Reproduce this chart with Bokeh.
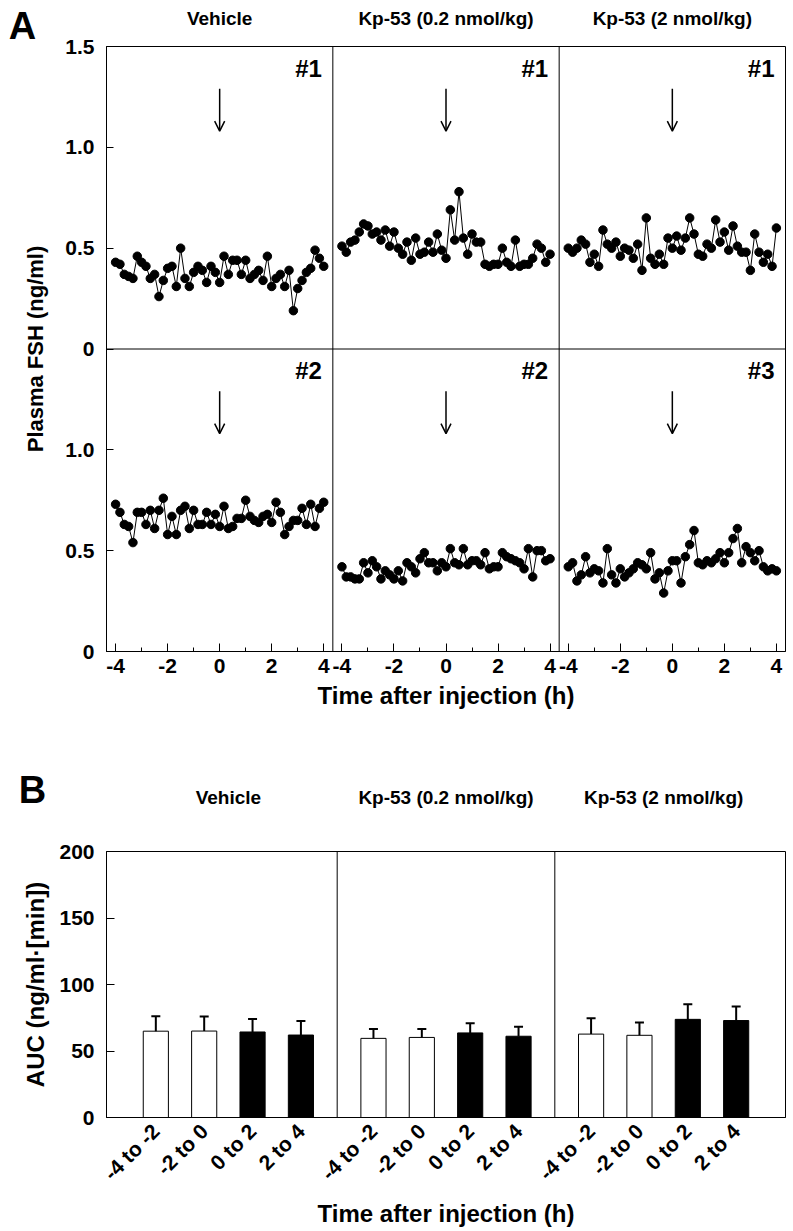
import math
from bokeh.plotting import figure
from bokeh.models import (ColumnDataSource, Range1d, FixedTicker, Span, LabelSet, LinearAxis,
                          Arrow, OpenHead, Whisker, TeeHead, FactorRange)
from bokeh.core.properties import value
from bokeh.layouts import column, row
from bokeh.embed import file_html
from bokeh.resources import INLINE

FONT = "Liberation Sans"

# ---------------- data: panel A (plasma FSH, ng/ml, 10-min sampling) ----------------
times_h = [round(-4 + i / 6, 4) for i in range(49)]

vehicle_1 = [0.43, 0.42, 0.37, 0.36, 0.35, 0.46, 0.43, 0.41, 0.35, 0.37, 0.26, 0.34, 0.40, 0.41, 0.31, 0.50,
             0.35, 0.31, 0.38, 0.41, 0.39, 0.33, 0.41, 0.38, 0.33, 0.46, 0.37, 0.44, 0.44, 0.37, 0.44, 0.35,
             0.37, 0.39, 0.34, 0.46, 0.31, 0.35, 0.37, 0.31, 0.39, 0.19, 0.30, 0.34, 0.38, 0.40, 0.49, 0.45, 0.41]
kp02_1 = [0.51, 0.48, 0.53, 0.54, 0.58, 0.62, 0.61, 0.57, 0.58, 0.54, 0.59, 0.51, 0.58, 0.50, 0.47, 0.53,
          0.44, 0.55, 0.47, 0.48, 0.53, 0.48, 0.57, 0.49, 0.45, 0.69, 0.54, 0.78, 0.55, 0.47, 0.57, 0.53,
          0.53, 0.42, 0.41, 0.42, 0.42, 0.50, 0.43, 0.41, 0.54, 0.41, 0.42, 0.42, 0.45, 0.52, 0.50, 0.43, 0.47]
kp2_1 = [0.50, 0.48, 0.50, 0.54, 0.52, 0.43, 0.47, 0.41, 0.59, 0.52, 0.50, 0.53, 0.46, 0.50, 0.49, 0.45,
         0.52, 0.39, 0.65, 0.45, 0.42, 0.47, 0.42, 0.55, 0.50, 0.56, 0.49, 0.55, 0.65, 0.57, 0.47, 0.46,
         0.52, 0.50, 0.64, 0.53, 0.58, 0.49, 0.61, 0.51, 0.48, 0.48, 0.39, 0.57, 0.48, 0.43, 0.47, 0.41, 0.60]
vehicle_2 = [0.73, 0.69, 0.63, 0.62, 0.54, 0.69, 0.69, 0.63, 0.70, 0.61, 0.70, 0.76, 0.58, 0.67, 0.58, 0.70,
             0.72, 0.61, 0.70, 0.63, 0.63, 0.69, 0.63, 0.68, 0.62, 0.72, 0.61, 0.62, 0.66, 0.66, 0.75, 0.67,
             0.65, 0.64, 0.67, 0.68, 0.64, 0.74, 0.69, 0.58, 0.62, 0.65, 0.65, 0.71, 0.63, 0.73, 0.62, 0.71, 0.74]
kp02_2 = [0.42, 0.37, 0.37, 0.36, 0.36, 0.44, 0.39, 0.45, 0.42, 0.36, 0.40, 0.38, 0.36, 0.40, 0.35, 0.44,
          0.42, 0.39, 0.46, 0.49, 0.44, 0.44, 0.40, 0.44, 0.42, 0.51, 0.44, 0.43, 0.51, 0.43, 0.45, 0.45,
          0.43, 0.49, 0.41, 0.42, 0.42, 0.49, 0.47, 0.46, 0.45, 0.44, 0.41, 0.51, 0.37, 0.50, 0.50, 0.45, 0.46]
kp2_3 = [0.42, 0.44, 0.35, 0.38, 0.47, 0.39, 0.41, 0.40, 0.34, 0.51, 0.38, 0.34, 0.41, 0.37, 0.39, 0.41,
         0.44, 0.43, 0.41, 0.49, 0.36, 0.39, 0.29, 0.40, 0.45, 0.45, 0.34, 0.47, 0.53, 0.60, 0.44, 0.43,
         0.45, 0.44, 0.46, 0.49, 0.44, 0.49, 0.56, 0.61, 0.44, 0.52, 0.49, 0.45, 0.50, 0.42, 0.40, 0.41, 0.40]

treatments = ["Vehicle", "Kp-53 (0.2 nmol/kg)", "Kp-53 (2 nmol/kg)"]
top_row_ids = ["#1", "#1", "#1"]
bottom_row_ids = ["#2", "#2", "#3"]
injection_time = 0
x_major = [-4, -2, 0, 2, 4]
x_minor = [-3, -1, 1, 3]
y_ticks = [0, 0.5, 1.0, 1.5]
y_tick_labels = ["0", "0.5", "1.0", "1.5"]

# ---------------- data: panel B (AUC, ng/ml.[min]) ----------------
periods = ["-4 to -2", "-2 to 0", "0 to 2", "2 to 4"]
post_injection = [False, False, True, True]
auc_vehicle = [64.9, 65.0, 64.3, 62.0]
auc_kp02 = [59.5, 60.2, 63.6, 61.1]
auc_kp2 = [62.7, 61.8, 73.8, 72.9]
sem_vehicle = [11.3, 11.0, 9.7, 10.6]
sem_kp02 = [7.0, 6.3, 7.2, 7.2]
sem_kp2 = [12.0, 9.7, 11.3, 10.6]
auc_ticks = [0, 50, 100, 150, 200]

# ---------------- layout constants (pixels) ----------------
STRIP_W = 50            # strip left of each panel: panel letter + y-axis title
LEFT, RIGHT, FRAME_W = 56, 2, 679
TOP_A, FRAME_A, BOTTOM_A = 46, 605, 76
TOP_B, FRAME_B, BOTTOM_B = 124, 266, 110

TICK_FS = "21px"
TITLE_FS = "19px"
LETTER_FS = "38px"
BOLD = "bold"


def style_axis(ax, label_size):
    ax.major_label_text_font = FONT
    ax.major_label_text_font_style = BOLD
    ax.major_label_text_font_size = TICK_FS
    ax.major_label_text_color = "black"
    ax.axis_label_text_font = FONT
    ax.axis_label_text_font_style = BOLD
    ax.axis_label_text_font_size = label_size
    ax.axis_label_text_color = "black"
    ax.axis_line_color = "black"
    ax.major_tick_line_color = "black"
    ax.minor_tick_line_color = "black"
    ax.major_tick_out = 0
    ax.minor_tick_out = 0


def label_axis(ax, ticks, labels, size, standoff):
    """Axis used only to print texts in a border (no line, no tick marks)."""
    ax.ticker = FixedTicker(ticks=ticks, minor_ticks=[])
    ax.major_label_overrides = {t: s for t, s in zip(ticks, labels)}
    ax.major_label_text_font = FONT
    ax.major_label_text_font_style = BOLD
    ax.major_label_text_font_size = size
    ax.major_label_text_color = "black"
    ax.major_label_standoff = standoff
    ax.axis_line_color = None
    ax.major_tick_line_color = None
    ax.minor_tick_line_color = None
    ax.major_tick_in = 0
    ax.major_tick_out = 0


def side_strip(top, frame_h, bottom, y_range, letter, letter_x, letter_standoff, ytitle, ytitle_y, ytitle_size):
    s = figure(frame_width=STRIP_W, frame_height=frame_h, x_range=Range1d(0, STRIP_W), y_range=y_range,
               output_backend="svg", toolbar_location=None, x_axis_location="above", y_axis_location=None,
               min_border_left=0, min_border_right=0, min_border_top=top, min_border_bottom=bottom)
    s.grid.visible = False
    s.outline_line_color = None
    label_axis(s.xaxis[0], [letter_x], [letter], LETTER_FS, letter_standoff)
    s.text(x=[35], y=[ytitle_y], text=[ytitle], angle=math.pi / 2, text_align="center",
           text_baseline="middle", text_font=value(FONT), text_font_style="bold",
           text_font_size=ytitle_size, text_color="black")
    return s


# ---------------- panel A ----------------
HALF = 4.35          # half width of one time panel (h)
PW = 2 * HALF        # panel width (h)
ROW = 1.5            # y span of one row (ng/ml)
xr_a = Range1d(-HALF, -HALF + 3 * PW)
yr_a = Range1d(0, 2 * ROW)

pA = figure(frame_width=FRAME_W, frame_height=FRAME_A, x_range=xr_a, y_range=yr_a,
            output_backend="svg", toolbar_location=None,
            min_border_left=LEFT, min_border_right=RIGHT, min_border_top=TOP_A, min_border_bottom=BOTTOM_A)
pA.grid.visible = False
pA.outline_line_color = "black"
pA.outline_line_width = 1

rows = [[vehicle_1, kp02_1, kp2_1], [vehicle_2, kp02_2, kp2_3]]
for r, row_series in enumerate(rows):
    base = (1 - r) * ROW
    for c, vals in enumerate(row_series):
        xs = [t + c * PW for t in times_h]
        ys = [v + base for v in vals]
        pA.line(xs, ys, line_color="black", line_width=1)
        pA.scatter(xs, ys, size=8.5, fill_color="black", line_color="black")

for c in (1, 2):
    pA.add_layout(Span(location=-HALF + c * PW, dimension="height", line_color="black", line_width=1))
pA.add_layout(Span(location=ROW, dimension="width", line_color="black", line_width=1))

maj = [t + c * PW for c in range(3) for t in x_major]
mnr = [t + c * PW for c in range(3) for t in x_minor]
pA.xaxis.ticker = FixedTicker(ticks=maj, minor_ticks=mnr)
pA.xaxis.major_label_overrides = {m: str(t) for m, t in zip(maj, x_major * 3)}
pA.xaxis.axis_label = "Time after injection (h)"

yt = list(y_ticks[:-1]) + [v + ROW for v in y_ticks]
yl = y_tick_labels[:-1] + y_tick_labels
pA.yaxis.ticker = FixedTicker(ticks=yt, minor_ticks=[])
pA.yaxis.major_label_overrides = {v: s for v, s in zip(yt, yl)}

style_axis(pA.xaxis[0], "24px")
style_axis(pA.yaxis[0], "22px")
pA.xaxis.major_tick_in = 8
pA.xaxis.minor_tick_in = 4
pA.xaxis.major_label_standoff = 7
pA.xaxis.axis_label_standoff = 6
pA.yaxis.major_tick_in = 7
pA.yaxis.minor_tick_in = 0
pA.yaxis.major_label_standoff = 12

# treatment titles above the three columns
topA = LinearAxis()
pA.add_layout(topA, "above")
label_axis(topA, [c * PW for c in range(3)], treatments, TITLE_FS, 18)

id_src = ColumnDataSource(dict(x=[HALF + c * PW for c in range(3)] * 2,
                               y=[2 * ROW] * 3 + [ROW] * 3,
                               text=top_row_ids + bottom_row_ids))
pA.add_layout(LabelSet(x="x", y="y", text="text", source=id_src, x_offset=-11, y_offset=-8,
                       text_align="right", text_baseline="top", text_font=value(FONT),
                       text_font_style="bold", text_font_size="24px", text_color="black"))

arr_src = ColumnDataSource(dict(
    x0=[injection_time + c * PW for r in range(2) for c in range(3)],
    y0=[(1 - r) * ROW + 1.29 for r in range(2) for c in range(3)],
    x1=[injection_time + c * PW for r in range(2) for c in range(3)],
    y1=[(1 - r) * ROW + 1.08 for r in range(2) for c in range(3)]))
pA.add_layout(Arrow(x_start="x0", y_start="y0", x_end="x1", y_end="y1", source=arr_src,
                    line_color="black", line_width=1.5,
                    end=OpenHead(size=10, line_color="black", line_width=1.5)))

sA = side_strip(TOP_A, FRAME_A, BOTTOM_A, yr_a, "A", 22, 0, "Plasma FSH (ng/ml)", ROW, "22px")

# ---------------- panel B ----------------
GP = 0.5
PAD = 0.52
factors = [(g, per) for g in treatments for per in periods]
means = auc_vehicle + auc_kp02 + auc_kp2
sems = sem_vehicle + sem_kp02 + sem_kp2
fills = ["black" if post else "white" for post in post_injection] * 3
bsrc = ColumnDataSource(dict(x=factors, top=means, upper=[m + s for m, s in zip(means, sems)], fill=fills))
xr_b = FactorRange(*factors, group_padding=GP, range_padding=PAD, range_padding_units="absolute")
yr_b = Range1d(0, 200)

pB = figure(frame_width=FRAME_W, frame_height=FRAME_B, x_range=xr_b, y_range=yr_b,
            output_backend="svg", toolbar_location=None,
            min_border_left=LEFT, min_border_right=RIGHT, min_border_top=TOP_B, min_border_bottom=BOTTOM_B)
pB.grid.visible = False
pB.outline_line_color = "black"
pB.outline_line_width = 1

pB.vbar(x="x", top="top", width=0.52, source=bsrc, fill_color="fill", line_color="black", line_width=1)
pB.add_layout(Whisker(source=bsrc, base="x", lower="top", upper="upper", level="annotation",
                      line_color="black", line_width=2, lower_head=None,
                      upper_head=TeeHead(size=9, line_color="black", line_width=2)))
n_per = len(periods)
for g in (1, 2):
    pB.add_layout(Span(location=g * (n_per + GP) - GP / 2, dimension="height",
                       line_color="black", line_width=1))

pB.yaxis.ticker = FixedTicker(ticks=auc_ticks, minor_ticks=[])
pB.xaxis.axis_label = "Time after injection (h)"
style_axis(pB.xaxis[0], "24px")
style_axis(pB.yaxis[0], "24px")
pB.xaxis.major_label_text_font_size = "21px"
pB.xaxis.major_label_orientation = math.pi / 4
pB.xaxis.group_text_font_size = "0px"
pB.xaxis.group_text_color = None
pB.xaxis.separator_line_color = None
pB.xaxis.major_tick_in = 0
pB.xaxis.major_label_standoff = 10
pB.xaxis.axis_label_standoff = 5
pB.yaxis.major_tick_in = 8
pB.yaxis.minor_tick_in = 0
pB.yaxis.major_label_standoff = 12

topB = LinearAxis()
pB.add_layout(topB, "above")
label_axis(topB, [g * (n_per + GP) + n_per / 2 for g in range(3)], treatments, TITLE_FS, 44)

sB = side_strip(TOP_B, FRAME_B, BOTTOM_B, yr_b, "B", 32, 41, "AUC (ng/ml\u00b7[min])", 100, "24px")

layout = column(row(sA, pA), row(sB, pB))
open("out.html", "w").write(file_html(layout, INLINE))
